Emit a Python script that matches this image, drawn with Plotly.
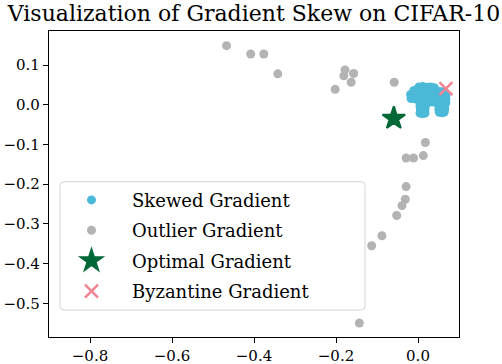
import plotly.graph_objects as go

# Data
skewed_x = [0.002, 0.012, 0.022, 0.031, 0.040,
            -0.010, 0.000, 0.010, 0.020, 0.030, 0.040, 0.049, 0.058,
            -0.018, -0.008, 0.002, 0.012, 0.022, 0.032, 0.042, 0.052, 0.061, 0.068,
            -0.017, -0.007, 0.003, 0.013, 0.023, 0.033, 0.043, 0.053, 0.063, 0.068,
            0.004, 0.014, 0.024, 0.034, 0.044, 0.054, 0.064, 0.068,
            0.005, 0.012, 0.018, 0.051, 0.058, 0.065,
            0.006, 0.012, 0.017, 0.051, 0.058, 0.065,
            0.005, 0.011, 0.017, 0.052, 0.059, 0.064]
skewed_y = [0.045, 0.046, 0.044, 0.045, 0.043,
            0.036, 0.035, 0.037, 0.036, 0.035, 0.036, 0.034, 0.033,
            0.026, 0.025, 0.027, 0.026, 0.025, 0.026, 0.027, 0.025, 0.026, 0.024,
            0.016, 0.015, 0.017, 0.016, 0.015, 0.016, 0.017, 0.015, 0.016, 0.014,
            0.006, 0.007, 0.006, 0.007, 0.006, 0.005, 0.006, 0.005,
            -0.004, -0.003, -0.004, -0.003, -0.004, -0.003,
            -0.013, -0.012, -0.013, -0.012, -0.013, -0.011,
            -0.021, -0.022, -0.021, -0.019, -0.020, -0.018]

outlier_x = [-0.467, -0.408, -0.376, -0.342, -0.178, -0.157, -0.181, -0.163,
             -0.202, -0.058, 0.018, -0.029, -0.011, 0.013, -0.029, -0.031,
             -0.039, -0.052, -0.088, -0.113, -0.143]
outlier_y = [0.149, 0.128, 0.128, 0.078, 0.088, 0.079, 0.073, 0.057,
             0.039, 0.057, -0.095, -0.134, -0.134, -0.128, -0.206, -0.238,
             -0.254, -0.279, -0.330, -0.355, -0.550]

optimal_x = [-0.059]
optimal_y = [-0.034]

byzantine_x = [0.068]
byzantine_y = [0.041]

x_ticks = [-0.8, -0.6, -0.4, -0.2, 0.0]
y_ticks = [0.1, 0.0, -0.1, -0.2, -0.3, -0.4, -0.5]

title_text = "Visualization of Gradient Skew on CIFAR-10"
names = ["Skewed Gradient", "Outlier Gradient", "Optimal Gradient", "Byzantine Gradient"]

BLUE = "#4BB9D8"
GRAY = "#B3B3B3"
GREEN = "#006837"
PINK = "#F08492"
FONT = "DejaVu Serif"

# plot-area geometry (pixels) used for the legend frame
W_PLOT, H_PLOT = 410.0, 306.0

fig = go.Figure()
fig.add_trace(go.Scatter(x=outlier_x, y=outlier_y, mode="markers", name=names[1],
                         legendrank=2, legendgroup="b",
                         marker=dict(color=GRAY, size=9, line=dict(width=0))))
fig.add_trace(go.Scatter(x=skewed_x, y=skewed_y, mode="markers", name=names[0],
                         legendrank=1, legendgroup="a",
                         marker=dict(color=BLUE, size=9, line=dict(width=0))))
fig.add_trace(go.Scatter(x=optimal_x, y=optimal_y, mode="markers", name=names[2],
                         legendrank=3, legendgroup="c",
                         marker=dict(color=GREEN, size=17, symbol="star",
                                     line=dict(width=2, color=GREEN))))
fig.add_trace(go.Scatter(x=byzantine_x, y=byzantine_y, mode="markers", name=names[3],
                         legendrank=4, legendgroup="d",
                         marker=dict(color=PINK, size=13, symbol="x-thin",
                                     line=dict(width=2.5, color=PINK))))

axis_common = dict(showgrid=False, zeroline=False, showline=True, mirror=True,
                   linecolor="black", linewidth=1.3, ticks="outside", ticklen=5,
                   tickwidth=1, tickcolor="black", tickformat=".1f", automargin=False,
                   tickfont=dict(family=FONT, size=15, color="black"))

# rounded legend frame (paper coordinates)
fx0, fx1 = 11 / W_PLOT, 316 / W_PLOT
fy0, fy1 = 27 / H_PLOT, 155.3 / H_PLOT
rx, ry = 4 / W_PLOT, 4 / H_PLOT
frame_path = (f"M {fx0 + rx} {fy1} L {fx1 - rx} {fy1} Q {fx1} {fy1} {fx1} {fy1 - ry} "
              f"L {fx1} {fy0 + ry} Q {fx1} {fy0} {fx1 - rx} {fy0} "
              f"L {fx0 + rx} {fy0} Q {fx0} {fy0} {fx0} {fy0 + ry} "
              f"L {fx0} {fy1 - ry} Q {fx0} {fy1} {fx0 + rx} {fy1} Z")

fig.update_layout(
    width=502, height=364,
    margin=dict(l=49, r=43, t=31, b=27, autoexpand=False),
    paper_bgcolor="white", plot_bgcolor="white",
    title=dict(text=title_text, x=0.5, xref="paper", xanchor="center",
               y=1 - 13 / 364, yref="container", yanchor="middle",
               font=dict(family=FONT, size=22, color="black")),
    xaxis=dict(range=[-0.9, 0.1], tickvals=x_ticks, **axis_common),
    yaxis=dict(range=[-0.585, 0.186], tickvals=y_ticks, **axis_common),
    shapes=[dict(type="path", xref="paper", yref="paper", path=frame_path,
                 fillcolor="rgba(255,255,255,0.8)", layer="above",
                 line=dict(color="#D5D5D5", width=1))],
    legend=dict(x=2 / W_PLOT, y=0.5075, xanchor="left", yanchor="top",
                bgcolor="rgba(0,0,0,0)", borderwidth=0,
                font=dict(family=FONT, size=18, color="black"),
                itemwidth=71, traceorder="grouped", tracegroupgap=4),
    showlegend=True,
)

fig.write_html("out.html", config={"displayModeBar": False},
               post_script="document.body.style.margin='0';")
